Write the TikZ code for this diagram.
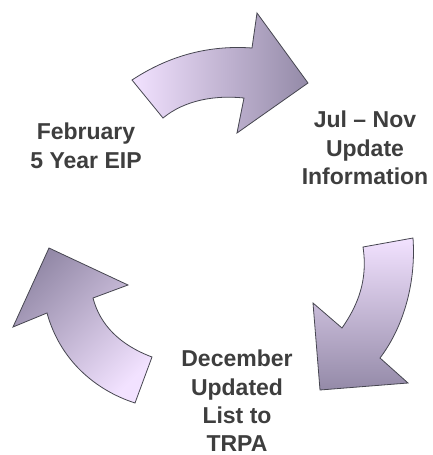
\documentclass[tikz,border=0pt]{standalone}
\usepackage{fontspec}
\setmainfont{Liberation Sans}
\usepackage{xcolor}
\usetikzlibrary{positioning}

\begin{document}
\begin{tikzpicture}[x=1pt, y=-1pt]

  % Define colors for the arrows and labels
  \definecolor{palecolor}{RGB}{242,226,255}   % Tail of each arrow
  \definecolor{midcolor}{RGB}{206,192,238}    % Middle of each arrow
  \definecolor{darkcolor}{RGB}{148,138,168}   % Head of each arrow
  \definecolor{edgecolor}{RGB}{70,70,80}      % Outline
  \definecolor{textcolor}{RGB}{62,62,62}      % Labels

  \tikzset{
    cyclearrow/.style={draw=edgecolor, line width=0.8pt, line join=miter},
    stagelabel/.style={anchor=north, inner sep=0pt, align=center, text=textcolor,
      font=\fontsize{23}{28.2}\selectfont\bfseries}
  }

  % Picture frame
  \useasboundingbox (0,0) rectangle (433,455);

  % Top arrow (February -> Jul - Nov)
  \path[cyclearrow, left color=palecolor, middle color=midcolor, right color=darkcolor]
    (132,80) .. controls (170,55) and (210,45) .. (252,48)
    -- (257,13) -- (308,83) -- (237,133) -- (244,98)
    .. controls (215,95) and (185,100) .. (163,118) -- cycle;

  % Right arrow (Jul - Nov -> December)
  \path[cyclearrow, top color=palecolor, middle color=midcolor, bottom color=darkcolor]
    (363,247) -- (413,238)
    .. controls (416,280) and (405,325) .. (380,358)
    -- (408,383) -- (320,390) -- (313,303) -- (342,328)
    .. controls (358,305) and (368,280) .. (363,247) -- cycle;

  % Left arrow (December -> February)
  \path[cyclearrow, top color=darkcolor, middle color=midcolor, bottom color=palecolor, shading angle=45]
    (135,403) -- (152,357)
    .. controls (120,345) and (100,325) .. (93,298)
    -- (128,285) -- (49,248) -- (13,327) -- (47,313)
    .. controls (60,360) and (95,390) .. (135,403) -- cycle;

  % Stage labels
  \node[stagelabel] (feb) at (86,123) {February\\5 Year EIP};
  \node[stagelabel] (jul) at (365,111) {Jul -- Nov\\Update\\Information};
  \node[stagelabel] (dec) at (237,350) {December\\Updated\\List to\\TRPA};

\end{tikzpicture}
\end{document}
